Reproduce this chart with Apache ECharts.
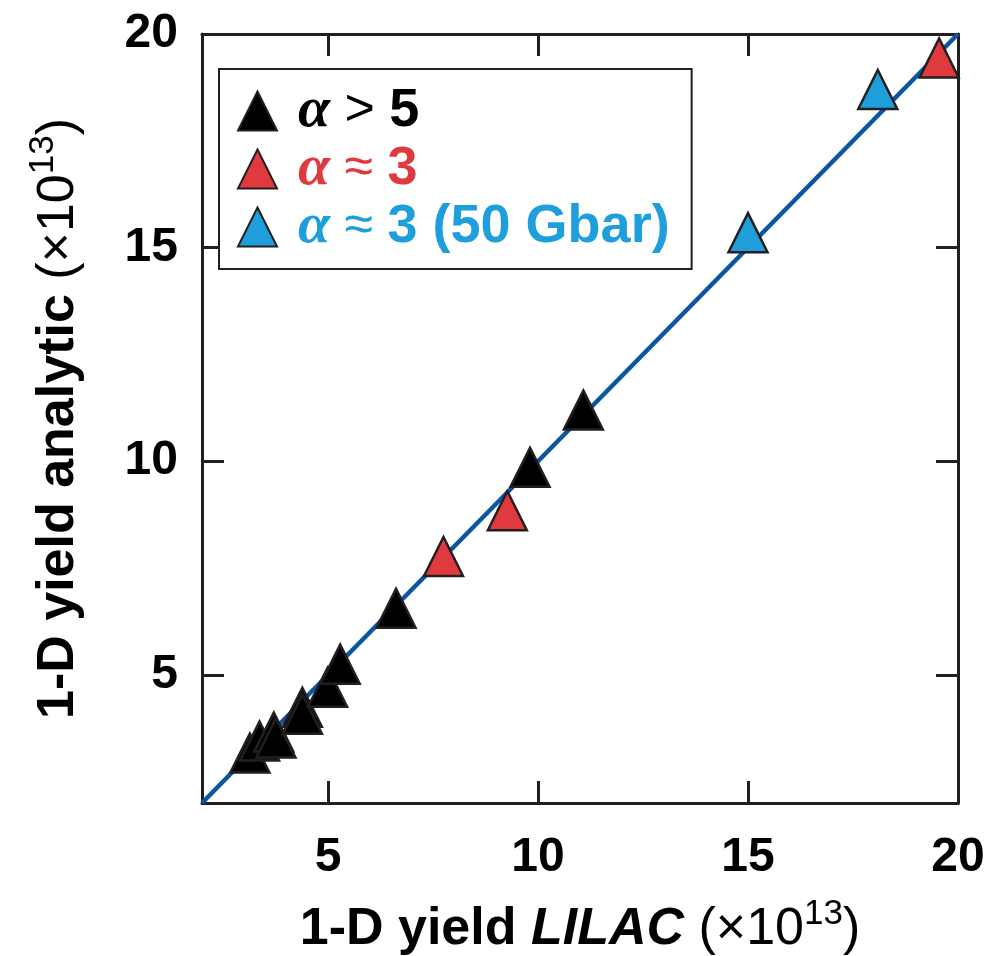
<!DOCTYPE html>
<html>
<head>
<meta charset="utf-8">
<title>1-D yield analytic vs LILAC</title>
<script src="https://cdn.jsdelivr.net/npm/echarts@6/dist/echarts.min.js"></script>
<style>
  html, body { margin: 0; padding: 0; background: #fff; }
  #main { width: 990px; height: 956px; }
</style>
</head>
<body>
<div id="main"></div>
<script>
// values (units of 1e13)
var blackX = [3.14, 3.37, 3.71, 3.76, 4.39, 4.39, 4.99, 5.29, 6.62, 9.81, 11.08]
var blackY = [3.17, 3.45, 3.66, 3.52, 4.24, 4.08, 4.71, 5.25, 6.56, 9.86, 11.2]
var redX = [7.75, 9.27, 19.55]
var redY = [7.77, 8.84, 19.44]
var blueX = [15.0, 18.09]
var blueY = [15.35, 18.70]
var tickValues = [5, 10, 15, 20]
var axisMin = 2
var axisMax = 20
var seriesNames = ['alpha > 5', 'alpha ~ 3', 'alpha ~ 3 (50 Gbar)']

function pairs (xs, ys) {
  return xs.map(function (x, i) { return [x, ys[i]] })
}

var frameColor = '#231f20'
var colors = ['#000000', '#e03a3e', '#1e9fdb']

// legend label text, built with rich tokens per colour
var legendText = {}
legendText[seriesNames[0]] = '{a0|α}{o0| > }{b0|5}'
legendText[seriesNames[1]] = '{a1|α}{o1| ≈ }{b1|3}'
legendText[seriesNames[2]] = '{a2|α}{o2| ≈ }{b2|3 (50 Gbar)}'

var legendRich = {}
colors.forEach(function (c, i) {
  legendRich['a' + i] = { color: c, fontFamily: 'Liberation Serif', fontStyle: 'italic', fontWeight: 'bold', fontSize: 58, lineHeight: 52, padding: [0, 0, 0, 16] }
  legendRich['o' + i] = { color: c, fontFamily: 'Liberation Sans', fontWeight: 'normal', fontSize: 52, lineHeight: 52 }
  legendRich['b' + i] = { color: c, fontFamily: 'Liberation Sans', fontWeight: 'bold', fontSize: 54, lineHeight: 52 }
})

var nameRich = {
  b: { fontFamily: 'Liberation Sans', fontWeight: 'bold', fontSize: 52, lineHeight: 66, color: '#000' },
  i: { fontFamily: 'Liberation Sans', fontWeight: 'bold', fontStyle: 'italic', fontSize: 52, lineHeight: 66, color: '#000' },
  r: { fontFamily: 'Liberation Sans', fontWeight: 'normal', fontSize: 52, lineHeight: 66, color: '#000' },
  s: { fontFamily: 'Liberation Sans', fontWeight: 'normal', fontSize: 35, lineHeight: 35, verticalAlign: 'top', color: '#000' }
}

function makeAxis (pos, showLabel, extra) {
  var ax = {
    type: 'value',
    position: pos,
    min: axisMin,
    max: axisMax,
    splitLine: { show: false },
    axisLine: { show: true, onZero: false, lineStyle: { color: frameColor, width: 3 } },
    axisTick: { show: true, inside: true, length: 22, customValues: tickValues, lineStyle: { color: frameColor, width: 3 } },
    axisLabel: {
      show: showLabel,
      customValues: tickValues,
      margin: (pos === 'bottom') ? 31 : 24,
      fontFamily: 'Liberation Sans',
      fontWeight: 'bold',
      fontSize: 48,
      color: '#000'
    }
  }
  return Object.assign(ax, extra || {})
}

var chart = echarts.init(document.getElementById('main'))

var option = {
  backgroundColor: '#fff',
  animation: false,
  grid: { left: 202, right: 32, top: 34, bottom: 153, containLabel: false, outerBoundsMode: 'none' },
  legend: {
    orient: 'vertical',
    left: 219,
    top: 69,
    padding: [13, 22, 13, 18],
    itemWidth: 39,
    itemHeight: 39,
    itemGap: 0,
    backgroundColor: '#fff',
    borderColor: frameColor,
    borderWidth: 2,
    borderRadius: 0,
    data: seriesNames,
    formatter: function (name) { return legendText[name] },
    textStyle: { rich: legendRich }
  },
  xAxis: [
    makeAxis('bottom', true, {
      name: '{b|1-D yield }{i|LILAC}{r| (×10}{s|13}{r|)}',
      nameLocation: 'middle',
      nameGap: 94,
      nameTextStyle: { rich: nameRich }
    }),
    makeAxis('top', false)
  ],
  yAxis: [
    makeAxis('left', true, {
      name: '{b|1-D yield analytic }{r|(×10}{s|13}{r|)}',
      nameLocation: 'middle',
      nameGap: 110,
      nameTextStyle: { rich: nameRich }
    }),
    makeAxis('right', false)
  ],
  series: [
    {
      type: 'line',
      data: [[axisMin, axisMin], [axisMax, axisMax]],
      showSymbol: false,
      silent: true,
      z: 1,
      lineStyle: { color: '#0b55a3', width: 4.5 }
    },
    {
      name: seriesNames[0],
      type: 'scatter',
      data: pairs(blackX, blackY),
      symbol: 'triangle',
      symbolSize: 39,
      z: 3,
      itemStyle: { color: colors[0], borderColor: frameColor, borderWidth: 2.5, opacity: 1 }
    },
    {
      name: seriesNames[1],
      type: 'scatter',
      data: pairs(redX, redY),
      symbol: 'triangle',
      symbolSize: 39,
      z: 3,
      itemStyle: { color: colors[1], borderColor: frameColor, borderWidth: 2.5, opacity: 1 }
    },
    {
      name: seriesNames[2],
      type: 'scatter',
      data: pairs(blueX, blueY),
      symbol: 'triangle',
      symbolSize: 39,
      z: 3,
      itemStyle: { color: colors[2], borderColor: frameColor, borderWidth: 2.5, opacity: 1 }
    }
  ]
}

chart.setOption(option)
</script>
</body>
</html>
